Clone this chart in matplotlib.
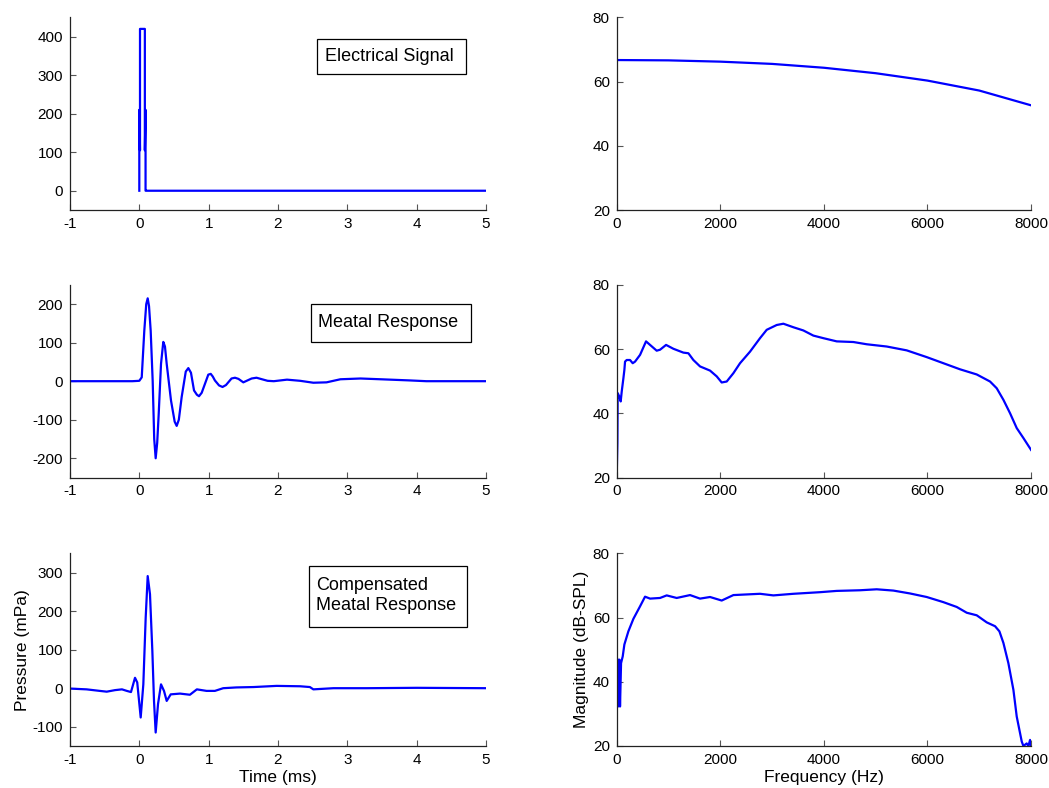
import matplotlib
matplotlib.use("Agg")
import matplotlib.pyplot as plt
from matplotlib.patches import Rectangle

plt.rcParams['font.family'] = ['Liberation Sans', 'DejaVu Sans']
plt.rcParams['axes.unicode_minus'] = False

# time signals (ms)
elec_t = [0.0, 0.0, 0.01, 0.01, 0.02, 0.06, 0.08, 0.08, 0.09, 0.09, 0.1, 5.0]
elec_y = [0, 210, 105, 420, 420, 420, 420, 105, 210, 0, 0, 0]

meatal_t = [-1.0, -0.5, -0.1, 0.0, 0.035, 0.072, 0.1, 0.121, 0.14, 0.164, 0.193, 0.215,
            0.236, 0.258, 0.28, 0.313, 0.346, 0.37, 0.395, 0.457, 0.51, 0.539, 0.57,
            0.611, 0.67, 0.707, 0.745, 0.789, 0.83, 0.861, 0.9, 0.995, 1.03, 1.06,
            1.09, 1.15, 1.2, 1.25, 1.33, 1.38, 1.43, 1.5, 1.62, 1.69, 1.75, 1.85,
            1.94, 2.13, 2.32, 2.51, 2.7, 2.9, 3.19, 3.48, 3.9, 4.14, 5.0]
meatal_y = [0, 0, 0, 1, 10, 131, 200, 215, 195, 131, 0, -150,
            -200, -160, -84, 45, 102, 90, 45, -50, -105, -116, -100,
            -41, 25, 34, 22, -24, -35, -39, -30, 17, 19, 12,
            2, -11, -15, -10, 7, 9, 6, -3, 7, 9, 6, 1,
            0, 4, 1, -4, -3, 5, 7, 5, 2, 0, 0]

comp_t = [-1.0, -0.76, -0.57, -0.47, -0.35, -0.25, -0.18, -0.12, -0.062, -0.03, 0.02,
          0.058, 0.092, 0.121, 0.154, 0.188, 0.212, 0.236, 0.27, 0.313, 0.356, 0.395,
          0.453, 0.587, 0.73, 0.83, 0.97, 1.09, 1.21, 1.4, 1.65, 1.98, 2.32, 2.46,
          2.51, 2.8, 3.28, 4.0, 5.0]
comp_y = [-1, -3, -7, -9, -5, -3, -7, -10, 27, 15, -76,
          10, 183, 291, 244, 97, -33, -115, -41, 10, -7, -33,
          -16, -14, -17, -3, -7, -7, 0, 2, 3, 6, 5, 3,
          -3, 0, 0, 1, 0]

# spectra (Hz, dB-SPL)
elec_f = [0, 1000, 2000, 3000, 4000, 5000, 6000, 7000, 8000]
elec_db = [66.7, 66.6, 66.2, 65.5, 64.3, 62.6, 60.3, 57.2, 52.6]

meatal_f = [0, 13, 19, 51, 77, 97, 129, 148, 161, 193, 257, 309, 354, 451, 566, 644,
            772, 837, 953, 1094, 1287, 1384, 1480, 1609, 1802, 1931, 2027, 2124, 2253,
            2381, 2574, 2767, 2896, 3089, 3218, 3411, 3604, 3797, 3990, 4248, 4570,
            4827, 5213, 5599, 5985, 6307, 6629, 6951, 7208, 7337, 7466, 7595, 7723,
            7852, 8000]
meatal_db = [20.3, 30.7, 46.3, 45.2, 43.7, 46.8, 50.9, 53.5, 56.1, 56.6, 56.6, 55.6,
             56.1, 58.2, 62.4, 61.3, 59.5, 59.8, 61.3, 60.1, 58.9, 58.7, 56.6, 54.6,
             53.3, 51.5, 49.6, 49.9, 52.5, 55.6, 59.2, 63.4, 66.0, 67.5, 67.9, 66.8,
             65.8, 64.2, 63.4, 62.4, 62.2, 61.5, 60.8, 59.6, 57.5, 55.6, 53.7, 52.1,
             49.9, 47.8, 44.2, 40.0, 35.4, 32.3, 28.6]

comp_f = [0, 6, 26, 51, 64, 84, 116, 148, 225, 322, 451, 547, 644, 837, 965, 1158,
          1416, 1609, 1802, 2027, 2253, 2510, 2767, 3025, 3411, 3926, 4248, 4698,
          5020, 5342, 5664, 5985, 6307, 6565, 6758, 6951, 7144, 7305, 7389, 7466,
          7562, 7659, 7723, 7775, 7820, 7852, 7916, 7949, 7981, 8000]
comp_db = [20, 47.4, 32.3, 46.9, 32.3, 45.8, 47.9, 51.6, 55.7, 59.6, 63.5, 66.5,
           65.9, 66.1, 66.9, 66.1, 67.0, 65.9, 66.4, 65.3, 67.0, 67.2, 67.4, 66.9,
           67.4, 67.9, 68.3, 68.5, 68.8, 68.4, 67.5, 66.4, 64.8, 63.3, 61.5, 60.7,
           58.5, 57.3, 55.7, 52.1, 45.8, 37.5, 29.2, 25.0, 21.4, 20.0, 20.8, 20.0,
           21.9, 20.0]

time_ticks = [-1, 0, 1, 2, 3, 4, 5]
freq_ticks = [0, 2000, 4000, 6000, 8000]
db_ticks = [20, 40, 60, 80]

fig = plt.figure(figsize=(10.49, 7.88), dpi=100)

left_x, left_w = 0.0667, 0.3966
right_x, right_w = 0.5879, 0.395
row_b = [0.7335, 0.394, 0.0533]
row_h = 0.2445


def style(ax):
    ax.spines['top'].set_visible(False)
    ax.spines['right'].set_visible(False)
    for s in ['left', 'bottom']:
        ax.spines[s].set_color('#222222')
        ax.spines[s].set_linewidth(0.9)
    ax.tick_params(direction='in', length=4, width=0.8, color='#555555',
                   labelsize=11, pad=5)


def label_box(ax, x0, y0, x1, y1, tx, ty, text):
    ax.add_patch(Rectangle((x0, y0), x1 - x0, y1 - y0, transform=ax.transAxes,
                           facecolor='white', edgecolor='black', lw=0.9, zorder=5))
    ax.text(tx, ty, text, transform=ax.transAxes, fontsize=13, ha='left',
            va='center', zorder=6, linespacing=1.2)


time_data = [(elec_t, elec_y, (-50, 450), [0, 100, 200, 300, 400]),
             (meatal_t, meatal_y, (-250, 250), [-200, -100, 0, 100, 200]),
             (comp_t, comp_y, (-150, 350), [-100, 0, 100, 200, 300])]
freq_data = [(elec_f, elec_db), (meatal_f, meatal_db), (comp_f, comp_db)]

left_axes = []
right_axes = []
for i in range(3):
    t, y, ylim, yt = time_data[i]
    ax = fig.add_axes([left_x, row_b[i], left_w, row_h])
    ax.plot(t, y, color='#0000ff', lw=1.6)
    ax.set_xlim(-1, 5)
    ax.set_ylim(*ylim)
    ax.set_xticks(time_ticks)
    ax.set_yticks(yt)
    style(ax)
    left_axes.append(ax)

    f, d = freq_data[i]
    ax2 = fig.add_axes([right_x, row_b[i], right_w, row_h])
    ax2.plot(f, d, color='#0000ff', lw=1.6)
    ax2.set_xlim(0, 8000)
    ax2.set_ylim(20, 80)
    ax2.set_xticks(freq_ticks)
    ax2.set_yticks(db_ticks)
    style(ax2)
    right_axes.append(ax2)

label_box(left_axes[0], 0.593, 0.706, 0.951, 0.889, 0.613, 0.798, "Electrical Signal")
label_box(left_axes[1], 0.579, 0.702, 0.963, 0.901, 0.597, 0.803, "Meatal Response")
label_box(left_axes[2], 0.575, 0.617, 0.955, 0.935, 0.591, 0.78,
          "Compensated\nMeatal Response")

left_axes[2].set_xlabel("Time (ms)", fontsize=12.5, labelpad=2)
left_axes[2].set_ylabel("Pressure (mPa)", fontsize=12.5, labelpad=2)
right_axes[2].set_xlabel("Frequency (Hz)", fontsize=12.5, labelpad=2)
right_axes[2].set_ylabel("Magnitude (dB-SPL)", fontsize=12.5, labelpad=3)

fig.savefig("out.png", dpi=100)
